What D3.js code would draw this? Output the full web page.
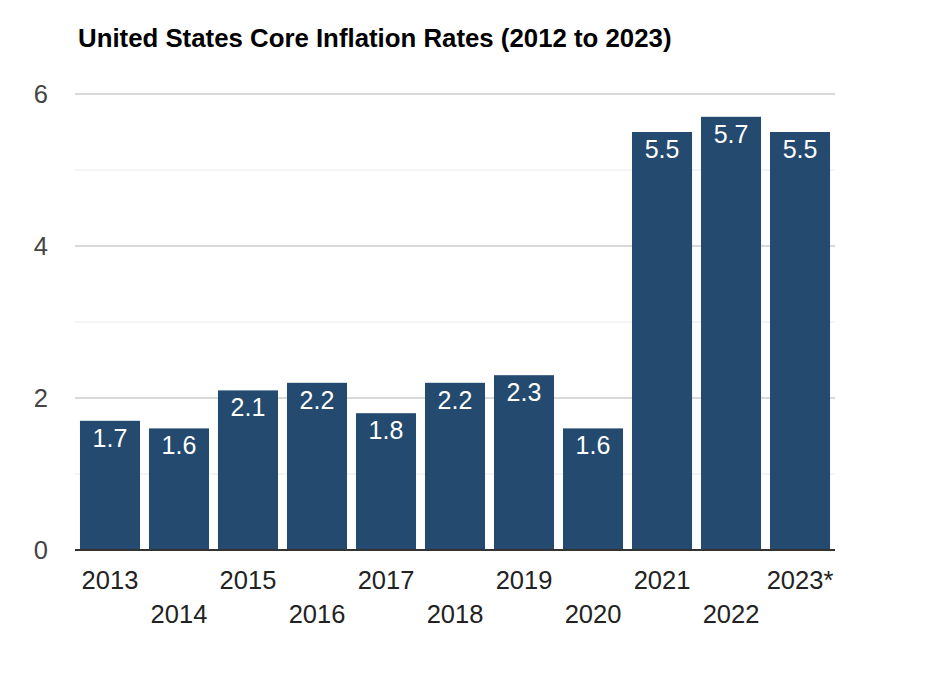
<!DOCTYPE html>
<html>
<head>
<meta charset="utf-8">
<script src="https://cdn.jsdelivr.net/npm/d3@7"></script>
<style>
  body { margin: 0; background: #fff; }
  svg { font-family: "Liberation Sans", Arial, sans-serif; }
</style>
</head>
<body>
<div id="chart"></div>
<script>
// --- data ---
const years = ["2013", "2014", "2015", "2016", "2017", "2018", "2019", "2020", "2021", "2022", "2023*"];
const rates = [1.7, 1.6, 2.1, 2.2, 1.8, 2.2, 2.3, 1.6, 5.5, 5.7, 5.5];
const yTicks = [0, 2, 4, 6];
const yMinorTicks = [1, 3, 5];
const title = "United States Core Inflation Rates (2012 to 2023)";

const width = 926, height = 674;
const margin = { top: 94, right: 91, bottom: 124, left: 75 };

const svg = d3.select("#chart").append("svg")
    .attr("width", width)
    .attr("height", height);

const x = d3.scaleBand()
    .domain(years)
    .range([margin.left, width - margin.right])
    .paddingInner(0.13)
    .paddingOuter(0.072);

const y = d3.scaleLinear()
    .domain([0, 6])
    .range([height - margin.bottom, margin.top]);

// title
svg.append("text")
    .attr("x", 78)
    .attr("y", 47)
    .attr("fill", "#000")
    .style("font-size", "25.8px")
    .style("font-weight", "bold")
    .text(title);

// minor gridlines
svg.append("g").selectAll("line")
    .data(yMinorTicks)
    .join("line")
    .attr("x1", margin.left).attr("x2", width - margin.right)
    .attr("y1", d => y(d)).attr("y2", d => y(d))
    .attr("stroke", "#e8e8e8")
    .attr("stroke-width", 1);

// major gridlines
svg.append("g").selectAll("line")
    .data(yTicks.filter(d => d !== 0))
    .join("line")
    .attr("x1", margin.left).attr("x2", width - margin.right)
    .attr("y1", d => y(d)).attr("y2", d => y(d))
    .attr("stroke", "#cccccc")
    .attr("stroke-width", 1.5);

// y labels
svg.append("g").selectAll("text")
    .data(yTicks)
    .join("text")
    .attr("x", 48)
    .attr("y", d => y(d))
    .attr("dy", "0.35em")
    .attr("text-anchor", "end")
    .attr("fill", "#444")
    .style("font-size", "25.5px")
    .text(d => d);

// bars
svg.append("g").selectAll("rect")
    .data(rates)
    .join("rect")
    .attr("x", (d, i) => x(years[i]))
    .attr("y", d => y(d))
    .attr("width", x.bandwidth())
    .attr("height", d => y(0) - y(d))
    .attr("fill", "#244a6f");

// value labels
svg.append("g").selectAll("text")
    .data(rates)
    .join("text")
    .attr("x", (d, i) => x(years[i]) + x.bandwidth() / 2)
    .attr("y", d => y(d) + 26)
    .attr("text-anchor", "middle")
    .attr("fill", "#fff")
    .style("font-size", "25px")
    .text(d => d.toFixed(1));

// baseline
svg.append("line")
    .attr("x1", margin.left).attr("x2", width - margin.right)
    .attr("y1", y(0)).attr("y2", y(0))
    .attr("stroke", "#333")
    .attr("stroke-width", 2);

// x labels, staggered in two rows
svg.append("g").selectAll("text")
    .data(years)
    .join("text")
    .attr("x", d => x(d) + x.bandwidth() / 2)
    .attr("y", (d, i) => i % 2 === 0 ? 589 : 623)
    .attr("text-anchor", "middle")
    .attr("fill", "#222")
    .style("font-size", "25.5px")
    .text(d => d);
</script>
</body>
</html>
